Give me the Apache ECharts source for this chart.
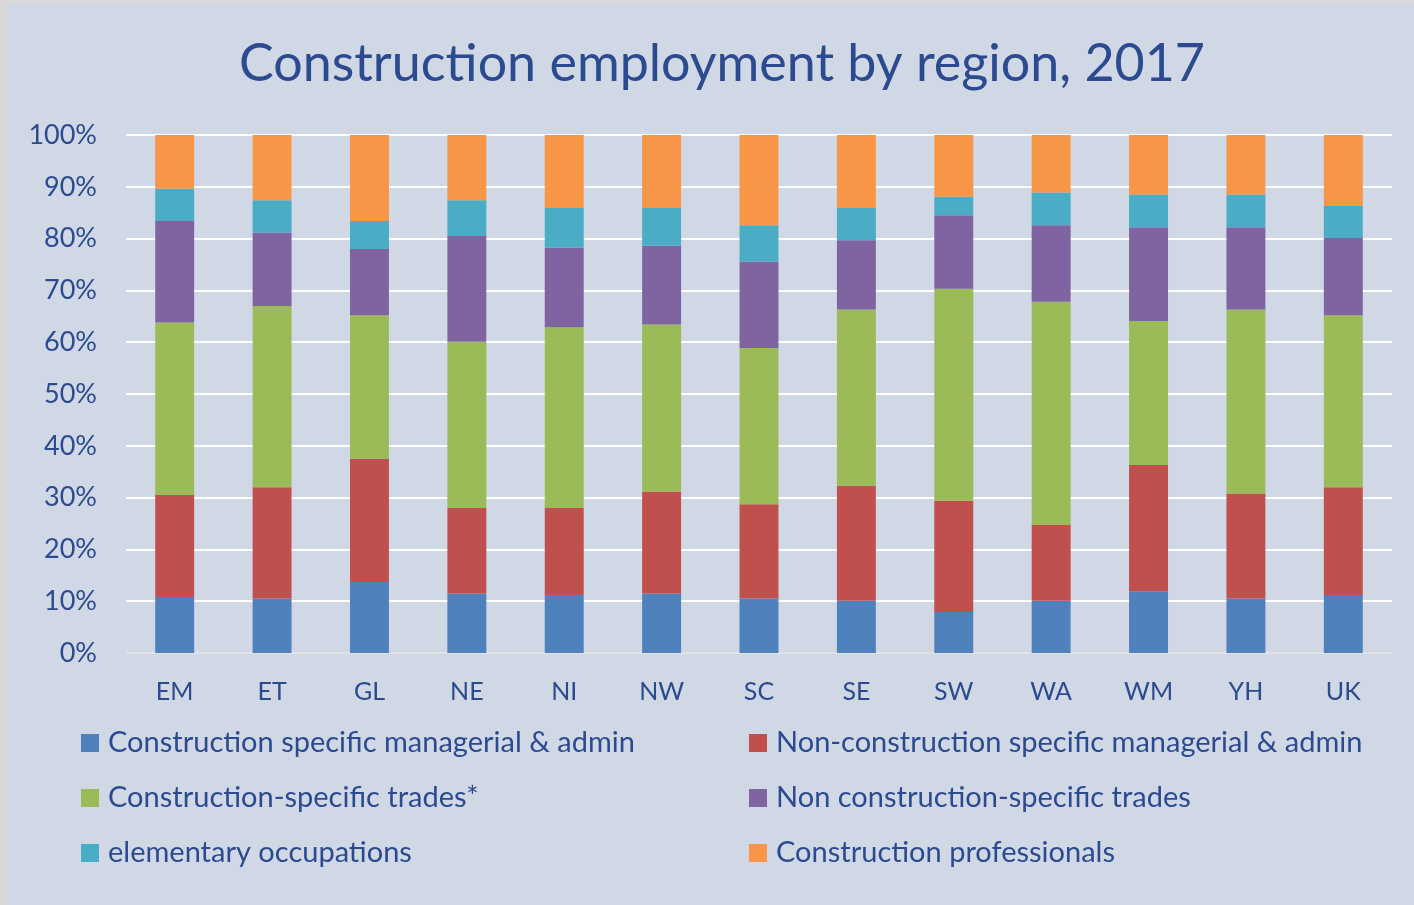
<!DOCTYPE html>
<html><head><meta charset="utf-8">
<script src="https://cdn.jsdelivr.net/npm/echarts@6/dist/echarts.min.js"></script>
<style>
html,body{margin:0;padding:0;background:#D9D9D9;width:1414px;height:905px;overflow:hidden;}
#c{position:absolute;left:7px;top:3px;width:1407px;height:902px;}
</style></head>
<body><div id="c"></div>
<script>
const categories = ['EM','ET','GL','NE','NI','NW','SC','SE','SW','WA','WM','YH','UK'];
const seriesNames = ['Construction specific managerial & admin','Non-construction specific managerial & admin','Construction-specific trades*','Non construction-specific trades','elementary occupations','Construction professionals'];
const constructionManagerial    = [10.8,10.5,13.7,11.5,11.2,11.5,10.5,10.1, 7.9,10.1,11.9,10.5,11.2];
const nonConstructionManagerial = [19.7,21.5,23.8,16.5,16.8,19.7,18.2,22.2,21.5,14.6,24.4,20.3,20.8];
const constructionTrades        = [33.3,35.0,27.7,32.1,34.9,32.2,30.2,34.0,40.9,43.1,27.8,35.5,33.2];
const nonConstructionTrades     = [19.6,14.2,12.8,20.4,15.4,15.2,16.7,13.4,14.2,14.8,18.1,15.9,14.9];
const elementaryOccupations     = [ 6.2, 6.2, 5.4, 6.9, 7.6, 7.3, 7.0, 6.2, 3.6, 6.3, 6.3, 6.3, 6.2];
const constructionProfessionals = [10.4,12.6,16.6,12.6,14.1,14.1,17.4,14.1,11.9,11.1,11.5,11.5,13.7];
const yTicks = [0,10,20,30,40,50,60,70,80,90,100];

const colors = ['#4F81BD','#C0504D','#9BBB59','#8064A2','#4BACC6','#F79646'];
const dataArr = [constructionManagerial,nonConstructionManagerial,constructionTrades,nonConstructionTrades,elementaryOccupations,constructionProfessionals];
const txt = '#2C4A90';
const font = 'Lato';

const legendText = {fontFamily:font,fontSize:29,color:txt,lineHeight:30,padding:[0,0,0,4]};
const chart = echarts.init(document.getElementById('c'));
chart.setOption({
  backgroundColor:'#D0D8E6',
  animation:false,
  color:colors,
  title:{text:'Construction employment by region, 2017',left:710,textAlign:'center',top:30,
    textStyle:{fontFamily:font,fontSize:52,fontWeight:'normal',color:txt}},
  grid:{left:119,right:22,top:132,bottom:252,containLabel:false},
  legend:[
    {data:[seriesNames[0],seriesNames[2],seriesNames[4]],orient:'vertical',left:74,top:725,padding:0,itemWidth:18,itemHeight:18,itemGap:25,icon:'rect',textStyle:legendText},
    {data:[seriesNames[1],seriesNames[3],seriesNames[5]],orient:'vertical',left:742,top:725,padding:0,itemWidth:18,itemHeight:18,itemGap:25,icon:'rect',textStyle:legendText}
  ],
  xAxis:{type:'category',data:categories,
    axisLine:{lineStyle:{color:'#D9D9D9',width:1.5}},axisTick:{show:false},
    axisLabel:{fontFamily:font,fontSize:25,color:txt,margin:26}},
  yAxis:{type:'value',min:yTicks[0],max:yTicks[yTicks.length-1],interval:10,
    axisLine:{show:false},axisTick:{show:false},
    splitLine:{lineStyle:{color:'#FFFFFF',width:2}},
    axisLabel:{fontFamily:font,fontSize:27,color:txt,margin:29,formatter:'{value}%'}},
  series:dataArr.map((d,i)=>({name:seriesNames[i],type:'bar',stack:'total',data:d,barWidth:'40%',
    itemStyle:{color:colors[i]}}))
});
</script></body></html>
